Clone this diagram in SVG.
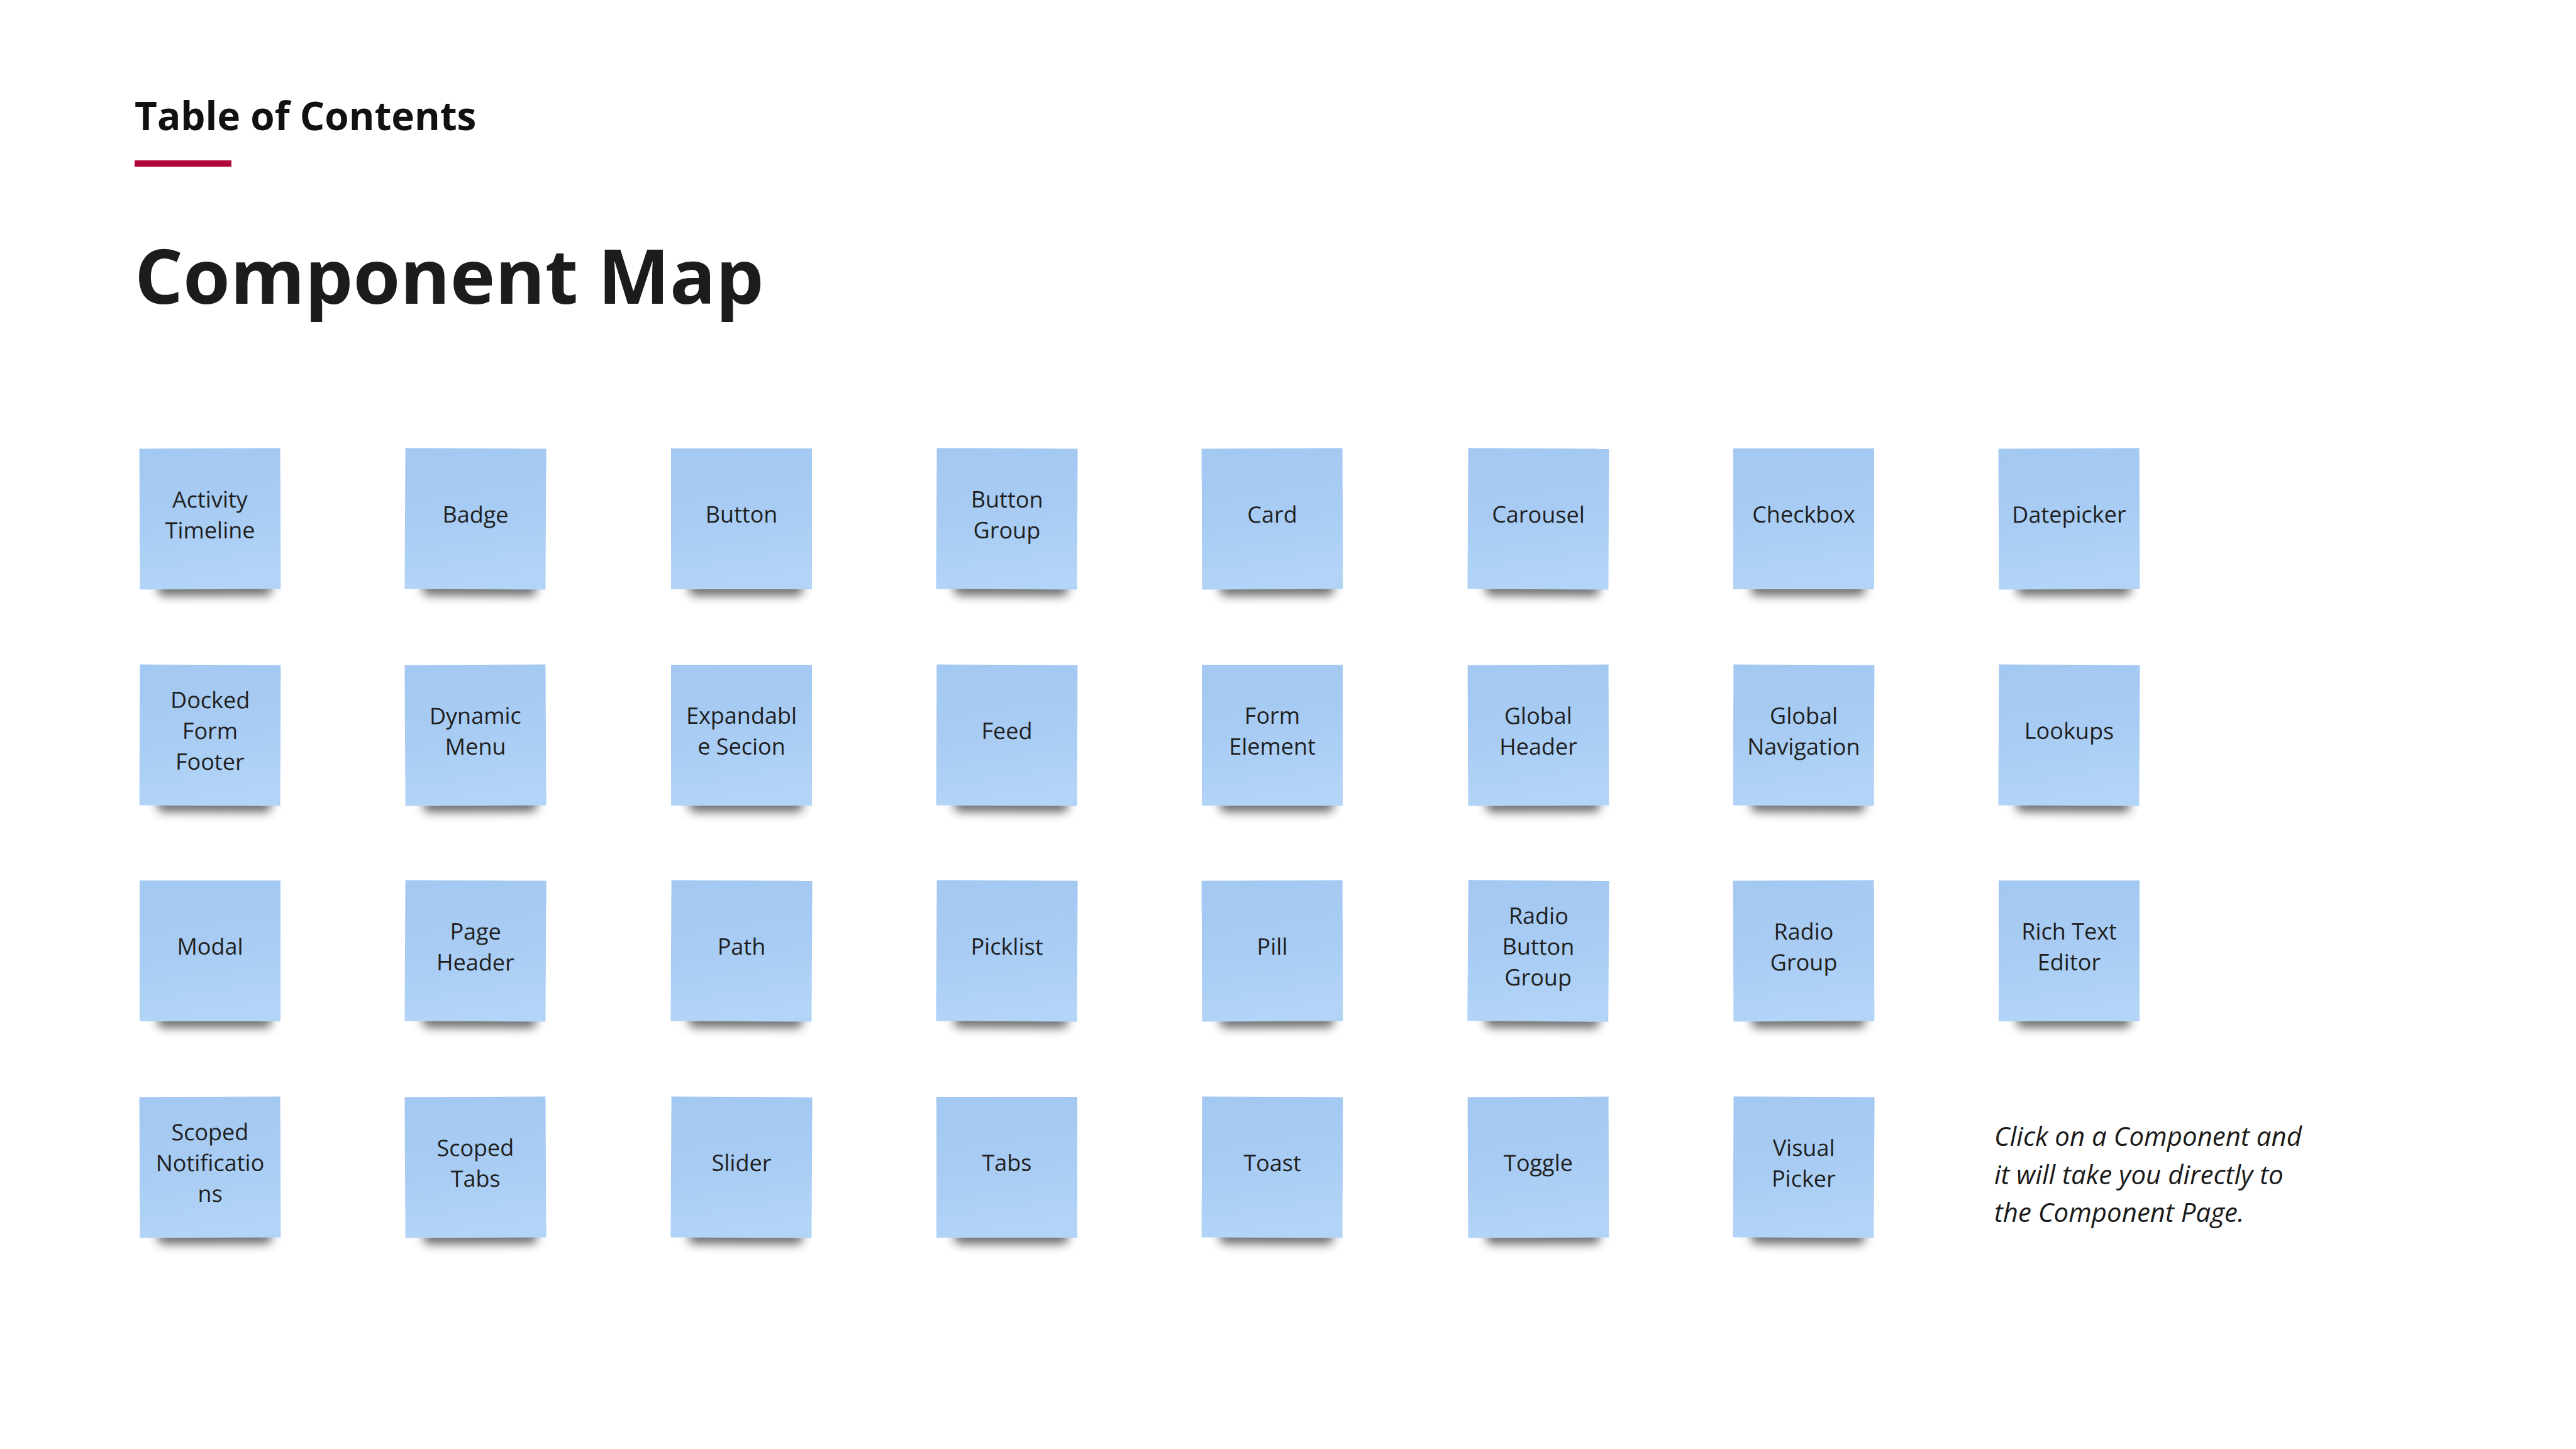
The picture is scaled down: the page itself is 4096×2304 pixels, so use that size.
<svg xmlns="http://www.w3.org/2000/svg" xmlns:xlink="http://www.w3.org/1999/xlink" width="4096" height="2304" viewBox="0 0 4096 2304">
  <style>
    .heading { font-family: "Open Sans", "Noto Sans", sans-serif; font-weight: 700; fill: #111111; }
    .title { font-family: "Open Sans", "Noto Sans", sans-serif; font-weight: 700; fill: #1c1c1c; }
    .label { font-family: "Open Sans", "Noto Sans", sans-serif; font-size: 36px; fill: #1f1f1f; text-anchor: middle; }
    .note-body { fill: url(#paper); }
    .note-shadow { fill: #2a2a2a; opacity: 0.7; filter: url(#soft); }
    .hint { font-family: "Open Sans", "Noto Sans", sans-serif; font-style: italic; font-size: 42px; fill: #1a1a1a; }
  </style>
  <defs>
    <linearGradient id="paper" x1="0" y1="0" x2="0.15" y2="1">
      <stop offset="0" stop-color="#a3c8f1"/>
      <stop offset="0.55" stop-color="#a8ccf3"/>
      <stop offset="1" stop-color="#b2d4f7"/>
    </linearGradient>
    <filter id="soft" x="-30%" y="-150%" width="160%" height="400%">
      <feGaussianBlur stdDeviation="8"/>
    </filter>
    <!-- sticky note: shadow under the lower edge, then the paper square -->
    <symbol id="note" overflow="visible">
      <rect class="note-shadow" x="-84" y="98" width="182" height="24" rx="10"/>
      <rect class="note-body" x="-112" y="-112" width="224" height="224"/>
    </symbol>
  </defs>

  <rect width="4096" height="2304" fill="#ffffff"/>

  <!-- page header -->
  <g id="header">
    <text class="heading" x="214" y="207" font-size="62">Table of Contents</text>
    <rect x="214" y="255" width="154" height="10" fill="#b0063a"/>
    <text class="title" x="214" y="483" font-size="121">Component Map</text>
  </g>

  <!-- row 1 -->
  <g id="activity-timeline" transform="translate(334 825) rotate(-0.2)">
    <use href="#note"/>
    <text class="label"><tspan x="0" y="-18">Activity</tspan><tspan x="0" y="31">Timeline</tspan></text>
  </g>
  <g id="badge" transform="translate(756 825) rotate(0.3)">
    <use href="#note"/>
    <text class="label" x="0" y="6">Badge</text>
  </g>
  <g id="button" transform="translate(1179 825)">
    <use href="#note"/>
    <text class="label" x="0" y="6">Button</text>
  </g>
  <g id="button-group" transform="translate(1601 825) rotate(0.3)">
    <use href="#note"/>
    <text class="label"><tspan x="0" y="-18">Button</tspan><tspan x="0" y="31">Group</tspan></text>
  </g>
  <g id="card" transform="translate(2023 825) rotate(-0.2)">
    <use href="#note"/>
    <text class="label" x="0" y="6">Card</text>
  </g>
  <g id="carousel" transform="translate(2446 825) rotate(0.3)">
    <use href="#note"/>
    <text class="label" x="0" y="6">Carousel</text>
  </g>
  <g id="checkbox" transform="translate(2868 825)">
    <use href="#note"/>
    <text class="label" x="0" y="6">Checkbox</text>
  </g>
  <g id="datepicker" transform="translate(3290 825) rotate(-0.2)">
    <use href="#note"/>
    <text class="label" x="0" y="6">Datepicker</text>
  </g>

  <!-- row 2 -->
  <g id="docked-form-footer" transform="translate(334 1169) rotate(0.2)">
    <use href="#note"/>
    <text class="label"><tspan x="0" y="-43">Docked</tspan><tspan x="0" y="6">Form</tspan><tspan x="0" y="55">Footer</tspan></text>
  </g>
  <g id="dynamic-menu" transform="translate(756 1169) rotate(-0.3)">
    <use href="#note"/>
    <text class="label"><tspan x="0" y="-18">Dynamic</tspan><tspan x="0" y="31">Menu</tspan></text>
  </g>
  <g id="expandable-section" transform="translate(1179 1169)">
    <use href="#note"/>
    <text class="label"><tspan x="0" y="-18">Expandabl</tspan><tspan x="0" y="31">e Secion</tspan></text>
  </g>
  <g id="feed" transform="translate(1601 1169) rotate(0.2)">
    <use href="#note"/>
    <text class="label" x="0" y="6">Feed</text>
  </g>
  <g id="form-element" transform="translate(2023 1169)">
    <use href="#note"/>
    <text class="label"><tspan x="0" y="-18">Form</tspan><tspan x="0" y="31">Element</tspan></text>
  </g>
  <g id="global-header" transform="translate(2446 1169) rotate(-0.2)">
    <use href="#note"/>
    <text class="label"><tspan x="0" y="-18">Global</tspan><tspan x="0" y="31">Header</tspan></text>
  </g>
  <g id="global-navigation" transform="translate(2868 1169) rotate(0.2)">
    <use href="#note"/>
    <text class="label"><tspan x="0" y="-18">Global</tspan><tspan x="0" y="31">Navigation</tspan></text>
  </g>
  <g id="lookups" transform="translate(3290 1169) rotate(0.3)">
    <use href="#note"/>
    <text class="label" x="0" y="6">Lookups</text>
  </g>

  <!-- row 3 -->
  <g id="modal" transform="translate(334 1512)">
    <use href="#note"/>
    <text class="label" x="0" y="6">Modal</text>
  </g>
  <g id="page-header" transform="translate(756 1512) rotate(0.3)">
    <use href="#note"/>
    <text class="label"><tspan x="0" y="-18">Page</tspan><tspan x="0" y="31">Header</tspan></text>
  </g>
  <g id="path" transform="translate(1179 1512) rotate(0.3)">
    <use href="#note"/>
    <text class="label" x="0" y="6">Path</text>
  </g>
  <g id="picklist" transform="translate(1601 1512) rotate(0.3)">
    <use href="#note"/>
    <text class="label" x="0" y="6">Picklist</text>
  </g>
  <g id="pill" transform="translate(2023 1512) rotate(-0.2)">
    <use href="#note"/>
    <text class="label" x="0" y="6">Pill</text>
  </g>
  <g id="radio-button-group" transform="translate(2446 1512) rotate(0.4)">
    <use href="#note"/>
    <text class="label"><tspan x="0" y="-43">Radio</tspan><tspan x="0" y="6">Button</tspan><tspan x="0" y="55">Group</tspan></text>
  </g>
  <g id="radio-group" transform="translate(2868 1512) rotate(-0.2)">
    <use href="#note"/>
    <text class="label"><tspan x="0" y="-18">Radio</tspan><tspan x="0" y="31">Group</tspan></text>
  </g>
  <g id="rich-text-editor" transform="translate(3290 1512)">
    <use href="#note"/>
    <text class="label"><tspan x="0" y="-18">Rich Text</tspan><tspan x="0" y="31">Editor</tspan></text>
  </g>

  <!-- row 4 -->
  <g id="scoped-notifications" transform="translate(334 1856) rotate(-0.2)">
    <use href="#note"/>
    <text class="label"><tspan x="0" y="-43">Scoped</tspan><tspan x="0" y="6">Notificatio</tspan><tspan x="0" y="55">ns</tspan></text>
  </g>
  <g id="scoped-tabs" transform="translate(756 1856) rotate(-0.3)">
    <use href="#note"/>
    <text class="label"><tspan x="0" y="-18">Scoped</tspan><tspan x="0" y="31">Tabs</tspan></text>
  </g>
  <g id="slider" transform="translate(1179 1856) rotate(0.3)">
    <use href="#note"/>
    <text class="label" x="0" y="6">Slider</text>
  </g>
  <g id="tabs" transform="translate(1601 1856)">
    <use href="#note"/>
    <text class="label" x="0" y="6">Tabs</text>
  </g>
  <g id="toast" transform="translate(2023 1856) rotate(0.2)">
    <use href="#note"/>
    <text class="label" x="0" y="6">Toast</text>
  </g>
  <g id="toggle" transform="translate(2446 1856) rotate(-0.2)">
    <use href="#note"/>
    <text class="label" x="0" y="6">Toggle</text>
  </g>
  <g id="visual-picker" transform="translate(2868 1856) rotate(0.3)">
    <use href="#note"/>
    <text class="label"><tspan x="0" y="-18">Visual</tspan><tspan x="0" y="31">Picker</tspan></text>
  </g>

  <!-- usage hint -->
  <g id="hint">
    <text class="hint"><tspan x="3171" y="1822">Click on a Component and</tspan><tspan x="3171" y="1883">it will take you directly to</tspan><tspan x="3171" y="1943">the Component Page.</tspan></text>
  </g>
</svg>
